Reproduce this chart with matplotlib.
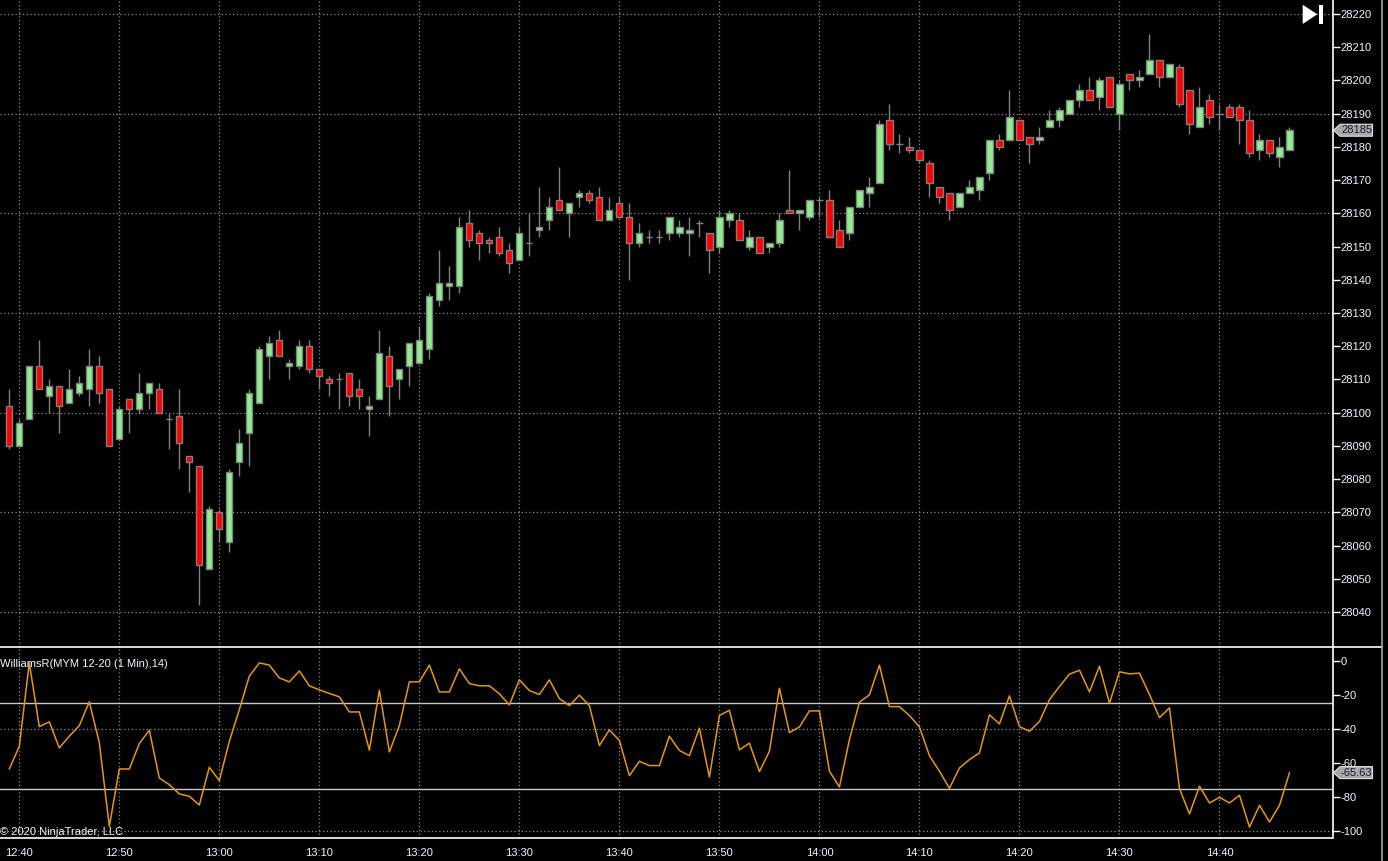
import numpy as np
import pandas as pd
import matplotlib
matplotlib.use("Agg")
import matplotlib.pyplot as plt
from matplotlib.patches import Polygon, Rectangle
from matplotlib.lines import Line2D

plt.rcParams['font.family'] = ['Liberation Sans', 'DejaVu Sans']

# 1 minute bars, MYM 12-20, 12:39 .. 14:47
times = pd.date_range("2020-11-20 12:39", periods=129, freq="min")

opens = [28102, 28090, 28098, 28114, 28105, 28108, 28103, 28106, 28107, 28114,
         28107, 28092, 28104, 28101, 28106, 28107, 28098, 28099, 28087, 28084,
         28053, 28070, 28061, 28085, 28094, 28103, 28117, 28122, 28114, 28114,
         28120, 28113, 28110, 28110, 28112, 28107, 28101, 28104, 28117, 28110,
         28114, 28115, 28119, 28134, 28138, 28138, 28157, 28154, 28152, 28153,
         28149, 28146, 28151, 28155, 28158, 28164, 28160, 28165, 28166, 28165,
         28158, 28163, 28159, 28151, 28153, 28153, 28154, 28154, 28154, 28157,
         28154, 28150, 28158, 28158, 28150, 28153, 28150, 28151, 28161, 28160,
         28159, 28164, 28164, 28155, 28154, 28162, 28166, 28169, 28188, 28181,
         28180, 28179, 28175, 28168, 28166, 28162, 28166, 28167, 28172, 28182,
         28182, 28188, 28183, 28182, 28186, 28188, 28190, 28194, 28197, 28195,
         28201, 28190, 28202, 28200, 28202, 28206, 28201, 28204, 28197, 28186,
         28194, 28190, 28192, 28192, 28188, 28179, 28182, 28177, 28179]
highs = [28107, 28098, 28114, 28122, 28110, 28108, 28113, 28111, 28119, 28117,
         28107, 28102, 28104, 28112, 28109, 28109, 28100, 28107, 28087, 28084,
         28072, 28071, 28083, 28095, 28107, 28120, 28123, 28125, 28116, 28122,
         28122, 28113, 28111, 28112, 28112, 28110, 28105, 28125, 28120, 28113,
         28121, 28126, 28136, 28149, 28144, 28159, 28161, 28155, 28153, 28156,
         28151, 28156, 28160, 28168, 28165, 28174, 28163, 28167, 28167, 28168,
         28165, 28165, 28163, 28157, 28155, 28155, 28159, 28158, 28159, 28158,
         28154, 28161, 28161, 28160, 28155, 28153, 28151, 28160, 28173, 28161,
         28164, 28165, 28167, 28158, 28162, 28167, 28171, 28188, 28193, 28184,
         28183, 28179, 28176, 28168, 28166, 28166, 28170, 28171, 28182, 28184,
         28197, 28188, 28183, 28186, 28191, 28192, 28194, 28199, 28201, 28201,
         28201, 28200, 28202, 28203, 28214, 28206, 28205, 28205, 28197, 28198,
         28196, 28193, 28193, 28193, 28191, 28184, 28182, 28183, 28186]
lows = [28089, 28090, 28098, 28107, 28100, 28094, 28103, 28105, 28102, 28103,
        28090, 28092, 28094, 28100, 28101, 28100, 28089, 28083, 28076, 28042,
        28053, 28061, 28058, 28081, 28084, 28103, 28110, 28117, 28110, 28113,
        28112, 28107, 28105, 28101, 28102, 28101, 28093, 28104, 28099, 28104,
        28108, 28115, 28116, 28132, 28134, 28136, 28150, 28146, 28148, 28147,
        28142, 28146, 28147, 28153, 28155, 28161, 28153, 28162, 28163, 28158,
        28158, 28159, 28140, 28150, 28151, 28151, 28152, 28153, 28147, 28153,
        28142, 28148, 28156, 28152, 28149, 28148, 28148, 28150, 28160, 28155,
        28158, 28159, 28153, 28150, 28152, 28162, 28162, 28169, 28179, 28178,
        28178, 28175, 28165, 28163, 28158, 28162, 28166, 28164, 28170, 28179,
        28182, 28182, 28175, 28181, 28186, 28186, 28190, 28192, 28194, 28191,
        28192, 28185, 28197, 28198, 28202, 28198, 28201, 28192, 28184, 28186,
        28187, 28185, 28189, 28181, 28177, 28176, 28177, 28174, 28179]
closes = [28090, 28097, 28114, 28107, 28108, 28102, 28107, 28109, 28114, 28106,
          28090, 28101, 28101, 28106, 28109, 28100, 28098, 28091, 28085, 28054,
          28071, 28065, 28082, 28091, 28106, 28119, 28121, 28117, 28115, 28120,
          28113, 28111, 28109, 28110, 28105, 28105, 28102, 28118, 28108, 28113,
          28121, 28122, 28135, 28139, 28139, 28156, 28152, 28151, 28151, 28148,
          28145, 28154, 28151, 28156, 28162, 28161, 28163, 28166, 28164, 28158,
          28161, 28159, 28151, 28154, 28153, 28153, 28159, 28156, 28155, 28157,
          28149, 28159, 28160, 28152, 28153, 28148, 28151, 28158, 28160, 28161,
          28164, 28164, 28153, 28150, 28162, 28167, 28168, 28187, 28181, 28181,
          28179, 28176, 28169, 28165, 28161, 28166, 28168, 28171, 28182, 28180,
          28189, 28182, 28181, 28183, 28188, 28191, 28194, 28197, 28194, 28200,
          28192, 28199, 28200, 28201, 28206, 28201, 28205, 28193, 28187, 28192,
          28189, 28190, 28189, 28188, 28178, 28182, 28178, 28180, 28185]

williams_r = [-63.5, -50.2, -1.4, -38.7, -35.9, -51.2, -44.3, -38.1, -24.2, -48.2,
              -97.1, -63.5, -63.5, -48.6, -40.8, -68.8, -72.7, -78.1, -79.5, -84.6,
              -62.5, -70.3, -47.3, -28.7, -9.2, -1.4, -2.7, -10.2, -12.5, -6.1,
              -14.8, -17.2, -19.3, -21.3, -30.1, -30.1, -52.5, -17.4, -53.5, -38.1,
              -12.5, -12.5, -2.7, -18.4, -18.4, -4.9, -13.5, -14.8, -14.8, -19.5,
              -26.0, -11.3, -17.6, -19.9, -11.3, -22.3, -26.4, -20.3, -26.4, -49.8,
              -40.6, -46.9, -67.4, -59.0, -61.5, -61.5, -44.3, -52.7, -55.7, -39.6,
              -68.2, -32.2, -29.1, -52.3, -48.4, -65.0, -53.1, -16.2, -42.2, -38.9,
              -29.5, -29.5, -64.8, -74.0, -46.3, -24.4, -20.1, -2.7, -27.0, -27.0,
              -32.2, -38.9, -55.7, -64.8, -74.8, -62.9, -58.0, -54.1, -31.8, -37.1,
              -20.7, -38.7, -41.4, -35.7, -22.9, -15.2, -8.0, -5.7, -18.4, -3.3,
              -25.0, -6.6, -7.8, -7.4, -19.9, -33.4, -27.7, -75.0, -89.8, -73.6,
              -83.4, -80.1, -83.4, -78.9, -97.5, -84.8, -94.5, -84.8, -65.63]

price_ticks = np.arange(28040, 28221, 10)
price_grid = np.arange(28040, 28221, 30)
wr_ticks = [0, -20, -40, -60, -80, -100]
wr_grid = [-40, -100]
wr_levels = [-25, -75]

W, H = 1388, 861
BG = "black"
FG = "#f2f5ff"
GRID = "#8a8a8a"
WICK = "#808080"
UP = "#90ee90"
DOWN = "#ff0000"
WR_COLOR = "#e8960c"

fig = plt.figure(figsize=(W / 100, H / 100), dpi=100, facecolor=BG)

right_px = 1332.5
ax1 = fig.add_axes([0, (H - 646.5) / H, right_px / W, 646.5 / H], facecolor=BG)
ax2 = fig.add_axes([0, (H - 838) / H, right_px / W, 191.5 / H], facecolor=BG)

x = np.arange(len(times))
o = np.array(opens)
hi = np.array(highs)
lo = np.array(lows)
c = np.array(closes)

# grid first so candles sit on top
for ax in (ax1, ax2):
    for k in range(len(times)):
        if times[k].minute % 10 == 0:
            ax.axvline(k, color=GRID, lw=0.9, ls=(0, (1, 2)), zorder=0)
for p in price_grid:
    ax1.axhline(p, color=GRID, lw=0.9, ls=(0, (1, 2)), zorder=0)
for v in wr_grid:
    ax2.axhline(v, color=GRID, lw=0.9, ls=(0, (1, 2)), zorder=0)

# candles
ax1.vlines(x, lo, hi, color=WICK, lw=1, zorder=2)
body_w = 0.62
up = c > o
down = c < o
flat = c == o
ax1.bar(x[up], (c - o)[up], bottom=o[up], width=body_w, color=UP,
        edgecolor=WICK, linewidth=1, zorder=3)
ax1.bar(x[down], (o - c)[down], bottom=c[down], width=body_w, color=DOWN,
        edgecolor=WICK, linewidth=1, zorder=3)
ax1.hlines(o[flat], x[flat] - body_w / 2, x[flat] + body_w / 2, color=WICK,
           lw=1, zorder=3)

# williams %R
for v in wr_levels:
    ax2.axhline(v, color="#c8c8c8", lw=1, zorder=1)
ax2.plot(x, williams_r, color=WR_COLOR, lw=1.1, zorder=3)

ax1.set_xlim(-0.93, 132.3)
ax2.set_xlim(-0.93, 132.3)
ax1.set_ylim(28029.6, 28224.2)
ax2.set_ylim(-103.9, 8.2)

for ax in (ax1, ax2):
    for s in ("left", "top"):
        ax.spines[s].set_visible(False)
    for s in ("right", "bottom"):
        ax.spines[s].set_color("white")
        ax.spines[s].set_linewidth(1.2)
    ax.yaxis.tick_right()
    ax.tick_params(axis="y", colors="white", labelcolor=FG, length=5,
                   width=1, pad=1, labelsize=8)

ax1.spines["bottom"].set_visible(False)
ax1.set_yticks(price_ticks)
ax1.set_yticklabels([str(p) for p in price_ticks])
ax1.set_xticks([])

ax2.set_yticks(wr_ticks)
ax2.set_yticklabels([str(v) for v in wr_ticks])
tick_idx = [k for k in range(len(times)) if times[k].minute % 10 == 0]
ax2.set_xticks(tick_idx)
ax2.set_xticklabels([times[k].strftime("%H:%M") for k in tick_idx])
ax2.tick_params(axis="x", length=0, pad=7, labelcolor=FG, labelsize=8)

# separator between panels and window border
fig.add_artist(Line2D([0, 1382 / W], [(H - 646.5) / H] * 2, color="white",
                      lw=1.2, transform=fig.transFigure))
fig.add_artist(Line2D([1382 / W] * 2, [0, 1], color="#a0a0a0", lw=1.2,
                      transform=fig.transFigure))


def px(xp, yp):
    return (xp / W, (H - yp) / H)


def value_flag(ax, value, label):
    # grey flag on the price scale with the last value
    yd = ax.transData.transform((0, value))[1]
    yp = H - yd
    pts = [px(1333.5, yp), px(1340, yp - 6), px(1372.5, yp - 6),
           px(1372.5, yp + 6), px(1340, yp + 6)]
    fig.add_artist(Polygon(pts, closed=True, facecolor="#a8a8a8",
                           edgecolor="#e0e0e0", lw=0.8,
                           transform=fig.transFigure, zorder=5))
    fig.text(1356.5 / W, (H - yp) / H, label, ha="center", va="center",
             fontsize=8, color="#1a1a2e", zorder=6)


value_flag(ax1, closes[-1], str(closes[-1]))
value_flag(ax2, williams_r[-1], f"{williams_r[-1]:.2f}")

# "go to end" icon
fig.add_artist(Polygon([px(1302.7, 4.7), px(1302.7, 24), px(1317.3, 14.3)],
                       closed=True, facecolor="white", edgecolor="none",
                       transform=fig.transFigure))
fig.add_artist(Rectangle(px(1319.3, 24), 3.4 / W, 19.3 / H, facecolor="white",
                         edgecolor="none", transform=fig.transFigure))

fig.text(0, (H - 664) / H, "WilliamsR(MYM 12-20 (1 Min),14)", ha="left",
         va="center", fontsize=8, color=FG)
fig.text(0, (H - 832) / H, "\u00a9 2020 NinjaTrader, LLC", ha="left",
         va="center", fontsize=8, color=FG)

fig.savefig("out.png", dpi=100, facecolor=BG)
